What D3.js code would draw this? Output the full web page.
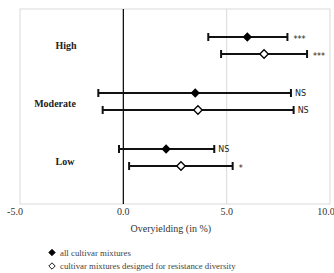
<!DOCTYPE html>
<html lang="en">
<head>
<meta charset="utf-8">
<title>Overyielding</title>
<script src="https://cdn.jsdelivr.net/npm/d3@7"></script>
<style>
  body { margin: 0; background: #fff; }
</style>
</head>
<body>
<script>
// data
var categories = ["High", "Moderate", "Low"];
var series = ["all cultivar mixtures", "cultivar mixtures designed for resistance diversity"];
var allMean  = [6.0, 3.48, 2.07];
var allLow   = [4.11, -1.21, -0.21];
var allHigh  = [7.94, 8.11, 4.40];
var allSig   = ["***", "NS", "NS"];
var resMean  = [6.81, 3.61, 2.79];
var resLow   = [4.73, -1.0, 0.28];
var resHigh  = [8.89, 8.24, 5.29];
var resSig   = ["***", "NS", "*"];
var xTicks = [-5, 0, 5, 10];

var w = 334, h = 273;
var mLeft = 20, mRight = 330, mTop = 9, mBottom = 204;

var svg = d3.select("body").append("svg")
  .attr("width", w).attr("height", h);

var x = d3.scaleLinear().domain([-5, 10]).range([mLeft, mRight]);
var yCat = d3.scaleBand().domain(categories).range([17.5, 185.5]);
var ySub = d3.scalePoint().domain([0, 1]).range([-8.5, 8.5]);

// frame
svg.append("rect")
  .attr("x", mLeft).attr("y", mTop)
  .attr("width", mRight - mLeft).attr("height", mBottom - mTop)
  .attr("fill", "none").attr("stroke", "#d9d9d9").attr("stroke-width", 1);

// grid line at 5
svg.append("line")
  .attr("x1", x(5)).attr("x2", x(5)).attr("y1", mTop).attr("y2", mBottom)
  .attr("stroke", "#d9d9d9");

// zero line
svg.append("line")
  .attr("x1", x(0)).attr("x2", x(0)).attr("y1", mTop).attr("y2", mBottom)
  .attr("stroke", "#000").attr("stroke-width", 1.2);

// x tick labels
svg.selectAll("text.tick").data(xTicks).enter().append("text")
  .attr("class", "tick")
  .attr("x", function(d) { return x(d) + (d < 0 ? -5 : d >= 10 ? -4 : 0); })
  .attr("y", 215)
  .attr("text-anchor", "middle")
  .attr("font-family", "Liberation Serif, serif")
  .attr("font-size", "10px")
  .attr("fill", "#333")
  .text(function(d) { return d.toFixed(1); });

svg.append("text")
  .attr("x", x(2.3)).attr("y", 232)
  .attr("text-anchor", "middle")
  .attr("font-family", "Liberation Serif, serif")
  .attr("font-size", "10px")
  .attr("fill", "#333")
  .text("Overyielding (in %)");

// category labels
var catX = [66, 55, 65];
var catDy = [3, 5.5, 7];
svg.selectAll("text.cat").data(categories).enter().append("text")
  .attr("class", "cat")
  .attr("x", function(d, i) { return catX[i]; })
  .attr("y", function(d, i) { return yCat(d) + yCat.bandwidth() / 2 + catDy[i]; })
  .attr("text-anchor", "middle")
  .attr("font-family", "Liberation Serif, serif")
  .attr("font-weight", "bold")
  .attr("font-size", "10px")
  .attr("fill", "#222")
  .text(function(d) { return d; });

// build rows
var rows = [];
categories.forEach(function(c, i) {
  rows.push({ cat: c, s: 0, mean: allMean[i], lo: allLow[i], hi: allHigh[i], sig: allSig[i] });
  rows.push({ cat: c, s: 1, mean: resMean[i], lo: resLow[i], hi: resHigh[i], sig: resSig[i] });
});
function ry(d) { return yCat(d.cat) + yCat.bandwidth() / 2 + ySub(d.s); }

var g = svg.selectAll("g.row").data(rows).enter().append("g").attr("class", "row");

g.append("line")
  .attr("x1", function(d) { return x(d.lo); })
  .attr("x2", function(d) { return x(d.hi); })
  .attr("y1", ry).attr("y2", ry)
  .attr("stroke", "#111").attr("stroke-width", 1.8);

["lo", "hi"].forEach(function(k) {
  g.append("line")
    .attr("x1", function(d) { return x(d[k]); })
    .attr("x2", function(d) { return x(d[k]); })
    .attr("y1", function(d) { return ry(d) - 4; })
    .attr("y2", function(d) { return ry(d) + 4; })
    .attr("stroke", "#111").attr("stroke-width", 2);
});

var diamond = d3.symbol().type(d3.symbolDiamond2);
g.append("path")
  .attr("d", function(d) { return diamond.size(d.s ? 46 : 36)(); })
  .attr("transform", function(d) { return "translate(" + x(d.mean) + "," + ry(d) + ")"; })
  .attr("fill", function(d) { return d.s ? "#fff" : "#000"; })
  .attr("stroke", "#000").attr("stroke-width", 1.3);

g.append("text")
  .attr("x", function(d) { return x(d.hi) + (d.sig === "NS" ? 4 : 6); })
  .attr("y", function(d) { return ry(d) + (d.sig === "NS" ? 3 : 5); })
  .attr("font-family", "DejaVu Sans, sans-serif")
  .attr("font-size", function(d) { return d.sig === "NS" ? "8px" : "8px"; })
  .attr("fill", "#222")
  .text(function(d) { return d.sig; });

// legend
var leg = svg.selectAll("g.leg").data(series).enter().append("g").attr("class", "leg")
  .attr("transform", function(d, i) { return "translate(52," + (252.5 + i * 13.5) + ")"; });
leg.append("path")
  .attr("d", diamond.size(26)())
  .attr("fill", function(d, i) { return i ? "#fff" : "#000"; })
  .attr("stroke", "#000").attr("stroke-width", 0.9);
leg.append("text")
  .attr("x", 8).attr("y", 3)
  .attr("font-family", "Liberation Serif, serif")
  .attr("font-size", "8.8px")
  .attr("fill", "#444")
  .text(function(d) { return d; });
</script>
</body>
</html>
